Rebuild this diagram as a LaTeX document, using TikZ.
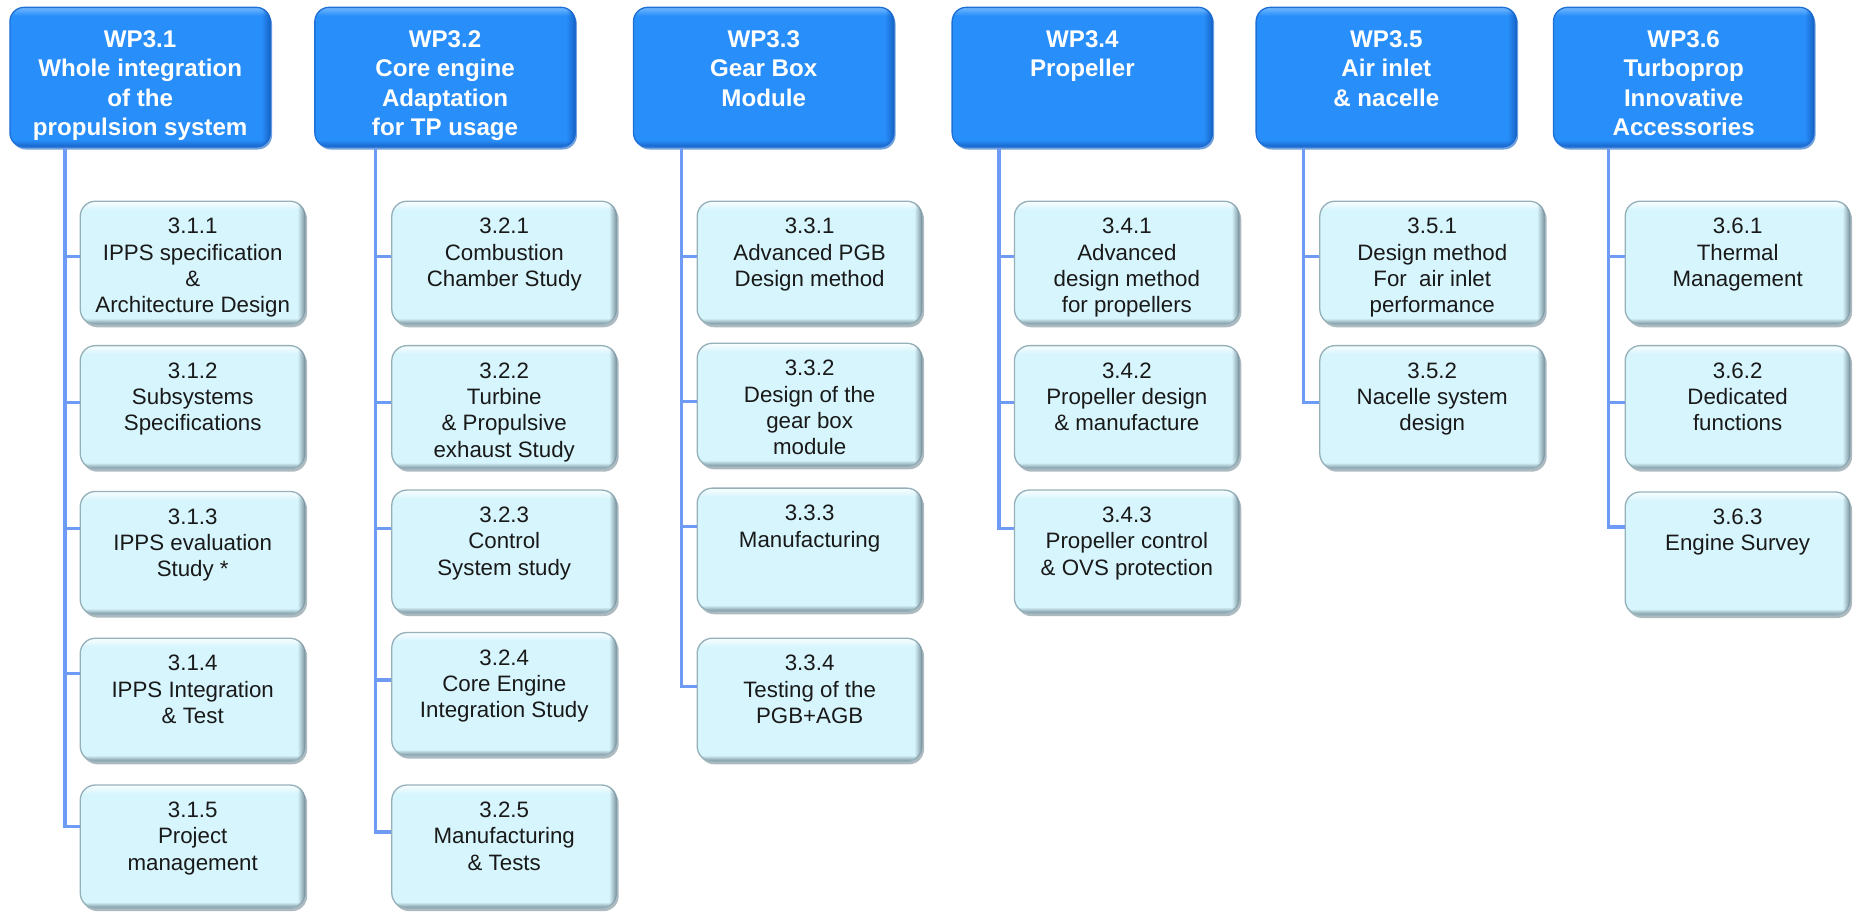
\documentclass[tikz,border=0pt]{standalone}
\usepackage{fontspec}
\setmainfont{Liberation Sans}
\usetikzlibrary{shadows,fadings}

\definecolor{wpblue}{RGB}{40,142,250}
\definecolor{wpdark}{RGB}{22,98,196}
\definecolor{wplight}{RGB}{115,184,255}
\definecolor{wpedge}{RGB}{30,112,215}
\definecolor{taskfill}{RGB}{215,245,253}
\definecolor{taskdark}{RGB}{118,142,152}
\definecolor{tasklight}{RGB}{248,254,255}
\definecolor{taskedge}{RGB}{150,176,186}
\definecolor{wplinecol}{RGB}{110,155,245}

\pgfdeclareverticalshading{wpshade}{100bp}{color(0bp)=(wpdark); color(25bp)=(wpdark); color(27.5bp)=(wpblue); color(72bp)=(wpblue); color(75bp)=(wplight); color(100bp)=(wplight)}
\pgfdeclareverticalshading{taskshade}{100bp}{color(0bp)=(taskdark); color(25bp)=(taskdark); color(27.5bp)=(taskfill); color(71.5bp)=(taskfill); color(75bp)=(tasklight); color(100bp)=(tasklight)}
\pgfdeclarehorizontalshading{rightedgeshade}{100bp}{color(0bp)=(black); color(73.2bp)=(black); color(75bp)=(white); color(100bp)=(white)}
\pgfdeclarefading{rightedge}{\pgfuseshading{rightedgeshade}}

\newcommand{\wptext}[1]{\parbox[c][2.95cm][t]{5.5cm}{\fontsize{14.5pt}{17.7pt}\selectfont\bfseries\centering\vspace*{0.49cm}#1}}
\newcommand{\tasktext}[1]{\parbox[c][2.6cm][t]{4.75cm}{\fontsize{13.4pt}{15.8pt}\selectfont\centering\vspace*{0.36cm}#1}}

\tikzset{
  wpbox/.style={rounded corners=0.3cm, shade, shading=wpshade, draw=wpedge, line width=0.8pt, inner sep=0pt, text=white,
    postaction={fill=wpdark, path fading=rightedge},
    drop shadow={shadow xshift=1pt, shadow yshift=-1.5pt, fill=wpdark, opacity=0.6}},
  taskbox/.style={rounded corners=0.32cm, shade, shading=taskshade, draw=taskedge, line width=0.8pt, inner sep=0pt, text=black!90,
    postaction={fill=taskdark, path fading=rightedge},
    drop shadow={shadow xshift=1.2pt, shadow yshift=-1.8pt, fill=taskdark, opacity=0.6}},
  wpline/.style={draw=wplinecol, line width=2pt}
}

\begin{document}
\begin{tikzpicture}
	\useasboundingbox (0,0) rectangle (39.2,-19.25);

	\node[wpbox] (wp31) at (2.96,-1.63) {\wptext{WP3.1\\Whole integration\\of the\\propulsion system}};
	\node[wpbox] (wp32) at (9.40,-1.63) {\wptext{WP3.2\\Core engine\\Adaptation\\for TP usage}};
	\node[wpbox] (wp33) at (16.13,-1.63) {\wptext{WP3.3\\Gear Box\\Module}};
	\node[wpbox] (wp34) at (22.86,-1.63) {\wptext{WP3.4\\Propeller}};
	\node[wpbox] (wp35) at (29.28,-1.63) {\wptext{WP3.5\\Air inlet\\\& nacelle}};
	\node[wpbox] (wp36) at (35.56,-1.63) {\wptext{WP3.6\\Turboprop\\Innovative\\Accessories}};

	\node[taskbox] (t311) at (4.07,-5.55) {\tasktext{3.1.1\\IPPS specification\\\&\\Architecture Design}};
	\node[taskbox] (t312) at (4.07,-8.60) {\tasktext{3.1.2\\Subsystems\\Specifications}};
	\node[taskbox] (t313) at (4.07,-11.68) {\tasktext{3.1.3\\IPPS evaluation\\Study *}};
	\node[taskbox] (t314) at (4.07,-14.78) {\tasktext{3.1.4\\IPPS Integration\\\& Test}};
	\node[taskbox] (t315) at (4.07,-17.88) {\tasktext{3.1.5\\Project\\management}};

	\node[taskbox] (t321) at (10.65,-5.55) {\tasktext{3.2.1\\Combustion\\Chamber Study}};
	\node[taskbox] (t322) at (10.65,-8.60) {\tasktext{3.2.2\\Turbine\\\& Propulsive\\exhaust Study}};
	\node[taskbox] (t323) at (10.65,-11.65) {\tasktext{3.2.3\\Control\\System study}};
	\node[taskbox] (t324) at (10.65,-14.66) {\tasktext{3.2.4\\Core Engine\\Integration Study}};
	\node[taskbox] (t325) at (10.65,-17.88) {\tasktext{3.2.5\\Manufacturing\\\& Tests}};

	\node[taskbox] (t331) at (17.10,-5.55) {\tasktext{3.3.1\\Advanced PGB\\Design method}};
	\node[taskbox] (t332) at (17.10,-8.55) {\tasktext{3.3.2\\Design of the\\gear box\\module}};
	\node[taskbox] (t333) at (17.10,-11.61) {\tasktext{3.3.3\\Manufacturing}};
	\node[taskbox] (t334) at (17.10,-14.78) {\tasktext{3.3.4\\Testing of the\\PGB+AGB}};

	\node[taskbox] (t341) at (23.80,-5.55) {\tasktext{3.4.1\\Advanced\\design method\\for propellers}};
	\node[taskbox] (t342) at (23.80,-8.60) {\tasktext{3.4.2\\Propeller design\\\& manufacture}};
	\node[taskbox] (t343) at (23.80,-11.65) {\tasktext{3.4.3\\Propeller control\\\& OVS protection}};

	\node[taskbox] (t351) at (30.25,-5.55) {\tasktext{3.5.1\\Design method\\For~ air inlet\\performance}};
	\node[taskbox] (t352) at (30.25,-8.60) {\tasktext{3.5.2\\Nacelle system\\design}};

	\node[taskbox] (t361) at (36.70,-5.55) {\tasktext{3.6.1\\Thermal\\Management}};
	\node[taskbox] (t362) at (36.70,-8.60) {\tasktext{3.6.2\\Dedicated\\functions}};
	\node[taskbox] (t363) at (36.70,-11.69) {\tasktext{3.6.3\\Engine Survey}};

	\coordinate (s1) at (1.375,0);
	\coordinate (s2) at (7.925,0);
	\coordinate (s3) at (14.40,0);
	\coordinate (s4) at (21.10,0);
	\coordinate (s5) at (27.525,0);
	\coordinate (s6) at (33.975,0);

	\draw[wpline] (wp31.south -| s1) |- ([yshift=0.13cm]t311.west);
	\draw[wpline] (wp31.south -| s1) |- ([yshift=0.10cm]t312.west);
	\draw[wpline] (wp31.south -| s1) |- ([yshift=0.52cm]t313.west);
	\draw[wpline] (wp31.south -| s1) |- ([yshift=0.56cm]t314.west);
	\draw[wpline] (wp31.south -| s1) |- ([yshift=0.42cm]t315.west);

	\draw[wpline] (wp32.south -| s2) |- ([yshift=0.13cm]t321.west);
	\draw[wpline] (wp32.south -| s2) |- ([yshift=0.10cm]t322.west);
	\draw[wpline] (wp32.south -| s2) |- ([yshift=0.49cm]t323.west);
	\draw[wpline] (wp32.south -| s2) |- ([yshift=0.30cm]t324.west);
	\draw[wpline] (wp32.south -| s2) |- ([yshift=0.31cm]t325.west);

	\draw[wpline] (wp33.south -| s3) |- ([yshift=0.13cm]t331.west);
	\draw[wpline] (wp33.south -| s3) |- ([yshift=0.07cm]t332.west);
	\draw[wpline] (wp33.south -| s3) |- ([yshift=0.49cm]t333.west);
	\draw[wpline] (wp33.south -| s3) |- ([yshift=0.28cm]t334.west);

	\draw[wpline] (wp34.south -| s4) |- ([yshift=0.13cm]t341.west);
	\draw[wpline] (wp34.south -| s4) |- ([yshift=0.10cm]t342.west);
	\draw[wpline] (wp34.south -| s4) |- ([yshift=0.49cm]t343.west);

	\draw[wpline] (wp35.south -| s5) |- ([yshift=0.13cm]t351.west);
	\draw[wpline] (wp35.south -| s5) |- ([yshift=0.10cm]t352.west);

	\draw[wpline] (wp36.south -| s6) |- ([yshift=0.13cm]t361.west);
	\draw[wpline] (wp36.south -| s6) |- ([yshift=0.10cm]t362.west);
	\draw[wpline] (wp36.south -| s6) |- ([yshift=0.56cm]t363.west);
\end{tikzpicture}
\end{document}
